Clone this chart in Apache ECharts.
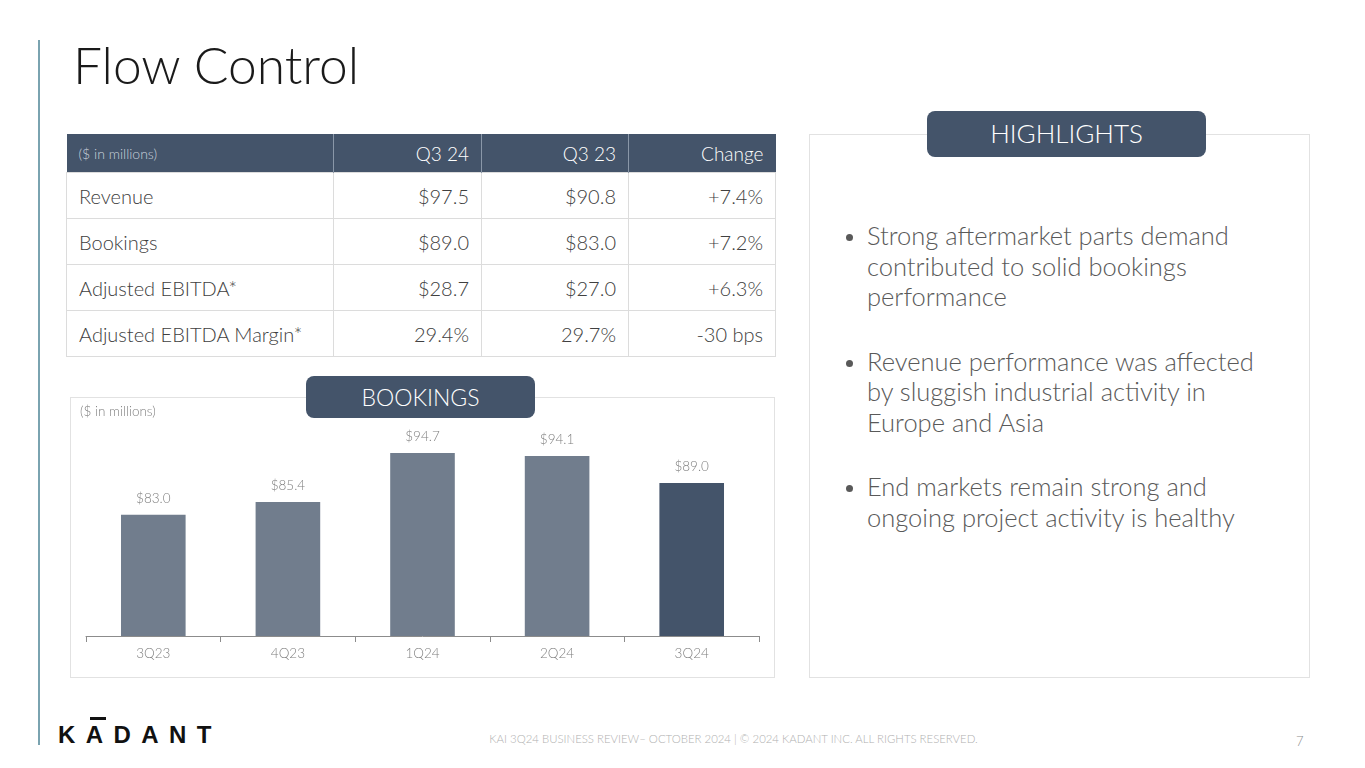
<!DOCTYPE html>
<html>
<head>
<meta charset="utf-8">
<script src="https://cdn.jsdelivr.net/npm/echarts@6/dist/echarts.min.js"></script>
<style>
  html, body { margin:0; padding:0; background:#fff; }
  body { width:1365px; height:768px; position:relative; overflow:hidden; font-family: Lato, "Noto Sans", sans-serif; font-weight:300; }
  .abs { position:absolute; }
  #vline { left:38px; top:40px; width:1.5px; height:705px; background:#7aa3b0; }
  #title { left:73px; top:34px; font-size:51.5px; color:#1a1a1a; font-weight:300; line-height:60px; white-space:nowrap; }
  table { position:absolute; left:66px; top:134px; border-collapse:collapse; table-layout:fixed; width:709px; }
  td, th { padding:0 12px 0 12px; font-weight:300; white-space:nowrap; }
  th { background:#44546a; color:#ffffff; height:38px; font-size:19px; text-align:right; border-left:1px solid #8a97a8; }
  th.first { text-align:left; font-size:14px; color:#c9d1dc; border-left:none; }
  td { height:45px; font-size:20px; color:#404040; text-align:right; border:1px solid #dcdcdc; }
  td.first { text-align:left; }
  #chartbox { left:70px; top:397px; width:703px; height:279px; border:1px solid #e2e2e2; }
  #chart { left:70px; top:397px; width:705px; height:281px; }
  #unit { left:80px; top:403px; font-size:13.5px; color:#7f7f7f; }
  .pill { background:#44546a; color:#fff; border-radius:8px; text-align:center; font-weight:300; white-space:nowrap; }
  #bpill { left:306px; top:376px; width:229px; height:42px; line-height:42px; font-size:23px; }
  #hbox { left:809px; top:134px; width:499px; height:542px; border:1px solid #e2e2e2; }
  #hpill { left:927px; top:111px; width:279px; height:46px; line-height:44px; font-size:26px; }
  ul { position:absolute; left:843px; top:220px; margin:0; padding:0; list-style:none; width:418px; }
  li { position:relative; padding-left:24px; font-size:25.5px; line-height:30.5px; color:#595959; margin-bottom:34px; font-weight:300; }
  li:before { content:""; position:absolute; left:3px; top:14px; width:7px; height:7px; border-radius:50%; background:#595959; }
  #logo { left:58px; top:724px; font-size:24px; font-weight:700; color:#111; letter-spacing:10.4px; line-height:22px; font-family: "Liberation Sans", Arial, sans-serif; }
  #macron { left:90px; top:717px; width:16px; height:2.5px; background:#111; }
  #footer { left:200px; width:1067px; top:732px; text-align:center; font-size:11.4px; color:#b0b0b0; }
  #page { left:1296px; top:733px; font-size:13px; color:#8c8c8c; }
</style>
</head>
<body>
<div id="vline" class="abs"></div>
<div id="title" class="abs"></div>

<table id="tbl"></table>

<div id="chartbox" class="abs"></div>
<div id="chart" class="abs"></div>
<div id="unit" class="abs"></div>
<div id="bpill" class="abs pill"></div>

<div id="hbox" class="abs"></div>
<div id="hpill" class="abs pill"></div>
<ul id="bullets"></ul>

<div id="macron" class="abs"></div>
<div id="logo" class="abs">KADANT</div>
<div id="footer" class="abs"></div>
<div id="page" class="abs"></div>

<script>
// ---- data ----
var titleText = "Flow Control";
var tableHeader = ["($ in millions)", "Q3 24", "Q3 23", "Change"];
var tableRowLabels = ["Revenue", "Bookings", "Adjusted EBITDA*", "Adjusted EBITDA Margin*"];
var tableQ324 = ["$97.5", "$89.0", "$28.7", "29.4%"];
var tableQ323 = ["$90.8", "$83.0", "$27.0", "29.7%"];
var tableChange = ["+7.4%", "+7.2%", "+6.3%", "-30 bps"];

var chartTitle = "BOOKINGS";
var chartUnit = "($ in millions)";
var categories = ["3Q23", "4Q23", "1Q24", "2Q24", "3Q24"];
var bookings = [83.0, 85.4, 94.7, 94.1, 89.0];

var highlightsTitle = "HIGHLIGHTS";
var highlights = [
  "Strong aftermarket parts demand contributed to solid bookings performance",
  "Revenue performance was affected by sluggish industrial activity in Europe and Asia",
  "End markets remain strong and ongoing project activity is healthy"
];
var footerText = "KAI 3Q24 BUSINESS REVIEW– OCTOBER 2024 | © 2024 KADANT INC. ALL RIGHTS RESERVED.";
var pageNumber = "7";

// ---- page text ----
document.getElementById('title').textContent = titleText;
document.getElementById('unit').textContent = chartUnit;
document.getElementById('bpill').textContent = chartTitle;
document.getElementById('hpill').textContent = highlightsTitle;
document.getElementById('footer').textContent = footerText;
document.getElementById('page').textContent = pageNumber;

var colW = [267, 148, 147, 147];
var tbl = document.getElementById('tbl');
var cg = '<colgroup>' + colW.map(function(w){return '<col style="width:'+w+'px">';}).join('') + '</colgroup>';
var html = cg + '<tr>' + tableHeader.map(function(h,i){return '<th'+(i===0?' class="first"':'')+'>'+h+'</th>';}).join('') + '</tr>';
for (var i = 0; i < tableRowLabels.length; i++) {
  html += '<tr><td class="first">'+tableRowLabels[i]+'</td><td>'+tableQ324[i]+'</td><td>'+tableQ323[i]+'</td><td>'+tableChange[i]+'</td></tr>';
}
tbl.innerHTML = html;

var ul = document.getElementById('bullets');
highlights.forEach(function(t){ var li = document.createElement('li'); li.textContent = t; ul.appendChild(li); });

// ---- chart ----
var chart = echarts.init(document.getElementById('chart'), null, {renderer:'canvas'});
var lastIdx = bookings.length - 1;
chart.setOption({
  animation: false,
  grid: { left: 16, right: 16, top: 28, bottom: 42, containLabel: false },
  xAxis: {
    type: 'category',
    data: categories,
    axisLine: { lineStyle: { color: '#8c8c8c', width: 1 } },
    axisTick: { show: true, length: 6, lineStyle: { color: '#8c8c8c' } },
    axisLabel: { color: '#7f7f7f', fontSize: 13.5, fontFamily: 'Lato', fontWeight: 300, margin: 11 }
  },
  yAxis: { type: 'value', min: 60, max: 100, show: false, splitLine: { show: false } },
  series: [{
    type: 'bar',
    barWidth: '48%',
    data: bookings.map(function(v, i){
      return { value: v, itemStyle: { color: i === lastIdx ? '#44546a' : '#717d8d' } };
    }),
    label: {
      show: true, position: 'top', distance: 9,
      color: '#7f7f7f', fontSize: 13.5, fontFamily: 'Lato', fontWeight: 300,
      formatter: function(p){ return '$' + p.value.toFixed(1); }
    }
  }]
});
</script>
</body>
</html>
